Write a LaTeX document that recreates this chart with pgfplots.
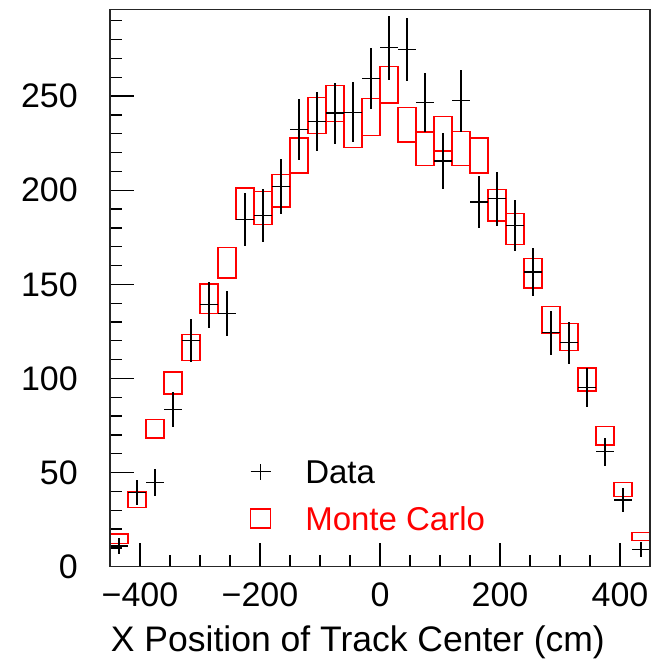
\documentclass[border=0pt]{standalone}
\usepackage{pgfplots}
\pgfplotsset{compat=1.18}
\usepackage{pgfplotstable}
\usepackage{fontspec}
\setmainfont{Liberation Sans}

\pgfplotstableread{
x data edata mc emc
-435 11.0 4.2 14.9 2.5
-405 39.5 6.8 35.7 4.2
-375 44.6 7.2 73.2 4.9
-345 83.5 9.3 97.6 5.9
-315 120.3 11.4 116.6 6.9
-285 139.2 12.2 142.3 7.8
-255 134.5 11.7 161.4 8.0
-225 184.5 14.0 192.8 8.4
-195 186.5 14.0 190.6 8.8
-165 202.0 14.4 199.7 8.7
-135 232.2 16.0 218.4 9.3
-105 236.6 15.8 239.7 9.7
-75 241.0 16.2 246.1 9.6
-45 241.4 16.0 232.0 9.2
-15 259.3 16.4 238.8 9.8
15 275.6 16.8 256.1 9.7
45 274.6 16.7 234.7 9.1
75 246.5 15.8 222.0 8.9
105 215.5 15.0 230.0 9.2
135 247.5 16.4 222.1 9.1
165 193.7 14.0 218.4 9.3
195 195.5 14.4 192.0 8.3
225 181.2 13.6 179.4 8.2
255 156.6 12.6 155.9 7.8
285 124.2 11.6 131.1 7.2
315 118.9 11.0 122.1 7.1
345 95.2 10.2 99.5 6.1
375 61.0 7.3 69.6 5.0
405 35.4 6.3 40.9 3.7
435 9.2 3.8 15.9 2.1
}\hist

\begin{document}
\begin{tikzpicture}
\useasboundingbox (-110pt,-93.3pt) rectangle (553pt,566.7pt);
\begin{axis}[
  at={(0pt,0pt)}, anchor=south west,
  scale only axis, width=540pt, height=557.2pt,
  xmin=-450, xmax=450, ymin=0, ymax=296,
  axis on top,
  tick pos=left, tick align=inside,
  xtick={-400,-200,0,200,400},
  xticklabels={−400,−200,0,200,400},
  minor xtick={-350,-300,-250,-150,-100,-50,50,100,150,250,300,350},
  ytick={0,50,100,150,200,250},
  yticklabels={0,50,100,150,200,250},
  minor ytick={10,20,...,290},
  major tick length=24pt, minor tick length=12pt,
  every tick/.style={black, line width=1.3pt},
  axis line style={line width=1.6pt, black!85},
  font=\fontsize{33}{40}\selectfont,
  tick label style={font=\fontsize{34}{40}\selectfont},
  xticklabel style={inner sep=0pt, anchor=north, yshift=-16pt},
  yticklabel style={inner sep=0pt, anchor=east, xshift=-32pt},
  xlabel={X Position of Track Center (cm)},
  xlabel style={font=\fontsize{35.5}{42}\selectfont, at={(axis description cs:0.9167,0)}, anchor=base east, inner sep=0pt, yshift=-85pt},
  reverse legend,
  legend cell align=left,
  legend style={draw=none, fill=none, inner sep=0pt, outer sep=0pt,
    at={(axis cs:-216.7,57.1)}, anchor=north west,
    column sep=34pt, row sep=22.9pt,
    nodes={inner sep=0pt, text height=24pt, text depth=0pt}},
]
% Monte Carlo boxes: left, right, bottom, top edges
\addplot[forget plot, draw=none, mark=none,
  error bars/.cd, y dir=both, y explicit, error mark=none,
  error bar style={draw=red, line width=1.3pt, line cap=rect}]
  table[x expr=\thisrow{x}-15, y=mc, y error=emc] {\hist};
\addplot[forget plot, draw=none, mark=none,
  error bars/.cd, y dir=both, y explicit, error mark=none,
  error bar style={draw=red, line width=1.3pt, line cap=rect}]
  table[x expr=\thisrow{x}+15, y=mc, y error=emc] {\hist};
\addplot[forget plot, draw=none, mark=none,
  error bars/.cd, x dir=both, x explicit, error mark=none,
  error bar style={draw=red, line width=1.3pt, line cap=rect}]
  table[x=x, y expr=\thisrow{mc}-\thisrow{emc}, x error expr=15] {\hist};
\addplot[draw=none, mark=none,
  legend image code/.code={\draw[red, line width=1.3pt] (0pt,-10pt) rectangle (20pt,9pt);},
  error bars/.cd, x dir=both, x explicit, error mark=none,
  error bar style={draw=red, line width=1.3pt, line cap=rect}]
  table[x=x, y expr=\thisrow{mc}+\thisrow{emc}, x error expr=15] {\hist};
\addlegendentry{\textcolor{red}{Monte Carlo}}
% Data crosses
\addplot[draw=none, mark=none,
  legend image code/.code={\draw[black, line width=1.2pt] (0pt,-0.5pt)--(20pt,-0.5pt) (10pt,-8.5pt)--(10pt,7.5pt);},
  error bars/.cd, x dir=both, x explicit, y dir=both, y explicit, error mark=none,
  error bar style={draw=black, line width=1.2pt}]
  table[x=x, y=data, x error expr=15, y error=edata] {\hist};
\addlegendentry{Data}
\end{axis}
\end{tikzpicture}
\end{document}
